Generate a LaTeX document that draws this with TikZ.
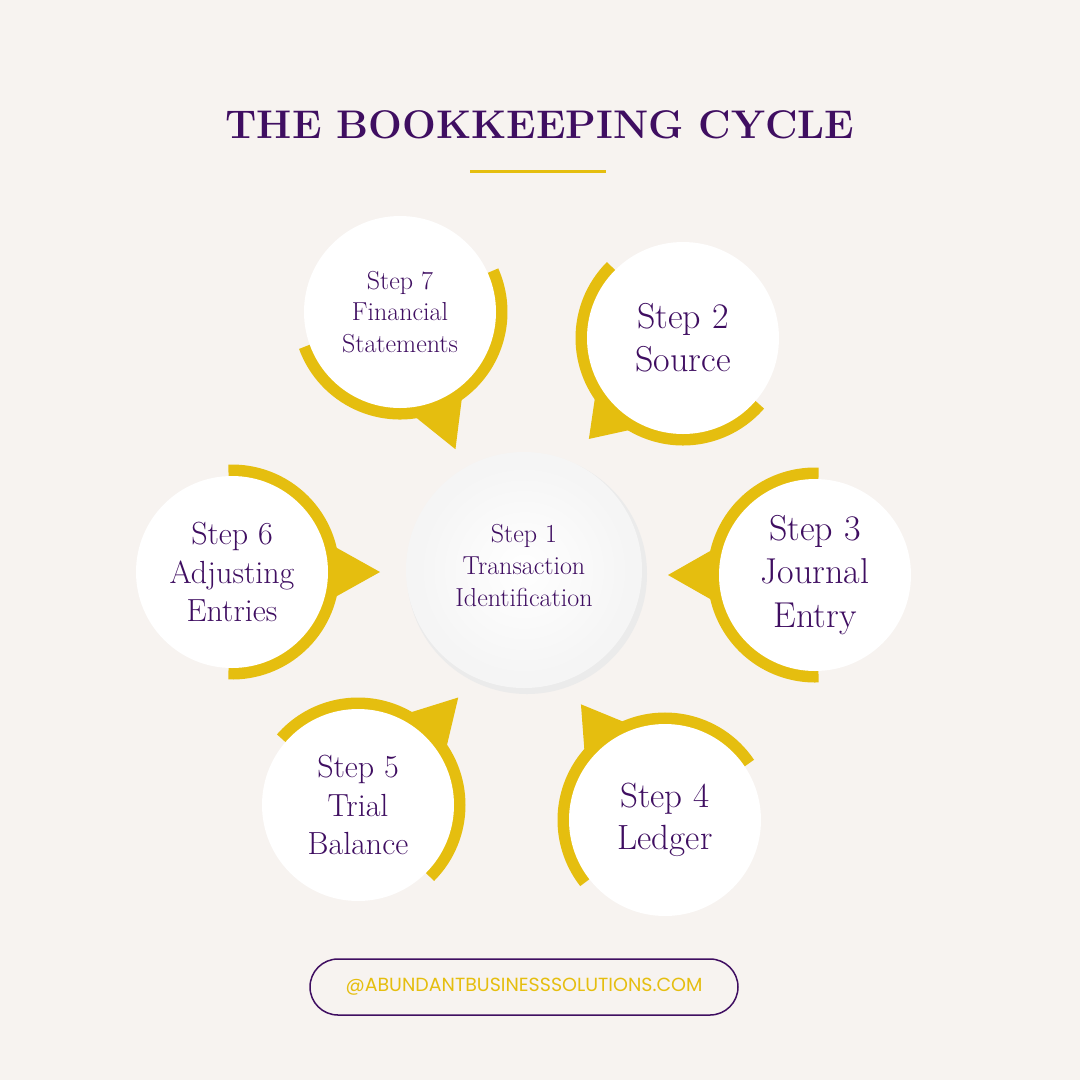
\documentclass[tikz,border=0pt]{standalone}
\usepackage{fontspec}
\setsansfont{Poppins}
\usetikzlibrary{calc}
\definecolor{bg}{HTML}{F7F3F0}
\definecolor{pur}{HTML}{3F0E61}
\definecolor{gold}{HTML}{E5BE0F}
\tikzset{
  steptext/.style 2 args={text=pur, align=center, font=\fontsize{#1}{#2}\selectfont},
  goldarc/.style={draw=gold, line width=13pt},
}
\begin{document}
\begin{tikzpicture}[x=1pt,y=-1pt]
\fill[bg] (0,0) rectangle (1080,1080);
\useasboundingbox (0,0) rectangle (1080,1080);
\node[text=pur, font=\fontsize{40}{46}\selectfont\bfseries] (title) at (540,125) {THE BOOKKEEPING CYCLE};
\draw[gold, line width=3pt] (470,171) -- (606,171);
\foreach \n/\cx/\cy/\ang/\dist/\fs/\txt in {
  s7/400/312/-68/148/26/{Step 7\\Financial\\Statements},
  s2/683/338/-133/138/36/{Step 2\\Source},
  s3/815/575/180/147/36/{Step 3\\Journal\\Entry},
  s4/665/820/126/143/35/{Step 4\\Ledger},
  s5/358/805/47/147/32/{Step 5\\Trial\\Balance},
  s6/232/572/0/148/32/{Step 6\\Adjusting\\Entries}}{
  \pgfmathsetmacro\bs{\fs*1.2}
  \coordinate (\n c) at (\cx,\cy);
  \draw[goldarc] ($(\n c)+({101*cos(\ang-92)},{-101*sin(\ang-92)})$) arc[start angle={-(\ang-92)}, end angle={-(\ang+92)}, radius=101];
  \fill[gold] ($(\n c)+({100*cos(\ang-17)},{-100*sin(\ang-17)})$) -- ($(\n c)+({\dist*cos(\ang)},{-\dist*sin(\ang)})$) -- ($(\n c)+({100*cos(\ang+17)},{-100*sin(\ang+17)})$) -- cycle;
  \fill[white] (\n c) circle (96);
  \node[steptext={\fs}{\bs}] (\n) at (\n c) {\txt};
}
\fill[black!8] (527,574) circle (120);
\fill[black!4] (524,570) circle (118);
\shade[inner color=white, outer color=black!4] (524,570) circle (108);
\node[steptext={26}{32}] (s1) at (524,566) {Step 1\\Transaction\\Identification};
\node[draw=pur, line width=1.5pt, rounded corners=28pt, minimum width=428pt, minimum height=56pt, text=gold, font=\sffamily\fontsize{19}{21}\selectfont] (web) at (524,987) {@ABUNDANTBUSINESSSOLUTIONS.COM};
\end{tikzpicture}
\end{document}
